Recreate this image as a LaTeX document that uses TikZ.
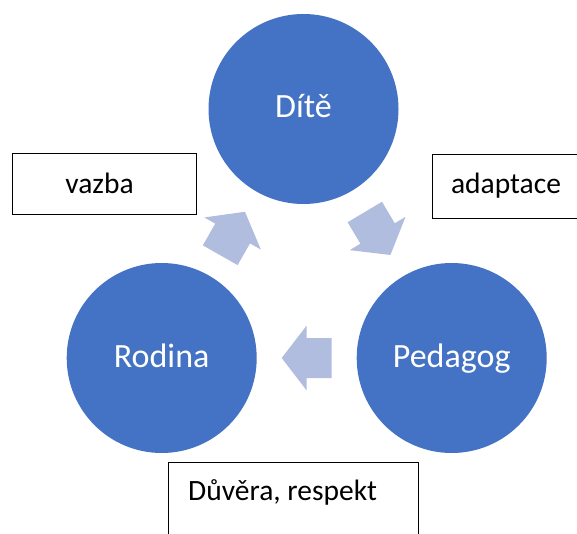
\documentclass[tikz,border=0pt]{standalone}
\usepackage{fontspec}
\setmainfont{Carlito}
\usetikzlibrary{calc}
\definecolor{circblue}{HTML}{4472C4}
\definecolor{arrowblue}{HTML}{B1BDDF}
\begin{document}
\begin{tikzpicture}[x=1pt,y=1pt,
  circ/.style={circle, fill=circblue, minimum size=190pt, inner sep=0pt, text=white,
    font=\fontsize{34}{41}\selectfont, text height=18pt, text depth=0pt},
  box/.style={draw=black, line width=1pt, fill=white, inner sep=0pt},
  boxtext/.style={font=\fontsize{29.5}{35}\selectfont, anchor=base, inner sep=0pt},
  blockarrow/.pic={\fill[arrowblue] (-25,-20) -- (0,-20) -- (0,-32.5) -- (25,0) -- (0,32.5) -- (0,20) -- (-25,20) -- cycle;}]
\useasboundingbox (0,0) rectangle (577,-534);

% circles
\node[circ] (dite) at (303.5,-109) {Dítě};
\node[circ] (rod) at (161.7,-358) {Rodina};
\node[circ] (ped) at (451.7,-358) {Pedagog};

% block arrows (cycle)
\pic[rotate=60.4] at ($(rod)!0.5!(dite)$) {blockarrow};
\pic[rotate=-59.2] at ($(dite)!0.5!(ped)$) {blockarrow};
\pic[rotate=180] at ($(ped)!0.5!(rod)$) {blockarrow};

% boxes
\node[box, minimum width=184pt, minimum height=61pt, anchor=north west] (vazba) at (12,-153) {};
\node[boxtext] (vazbat) at ($(vazba.center)+(-5,-9.8)$) {vazba};

\node[box, minimum width=147pt, minimum height=64pt, anchor=north west] (adapt) at (432,-154) {};
\node[boxtext] (adaptt) at ($(adapt.center)+(0,-7.3)$) {adaptace};

\node[box, minimum width=250pt, minimum height=90pt, anchor=north west] (duv) at (168,-462) {};
\node[boxtext, anchor=base west] (duvt) at ($(duv.north west)+(20,-38.7)$) {Důvěra, respekt};
\end{tikzpicture}
\end{document}
